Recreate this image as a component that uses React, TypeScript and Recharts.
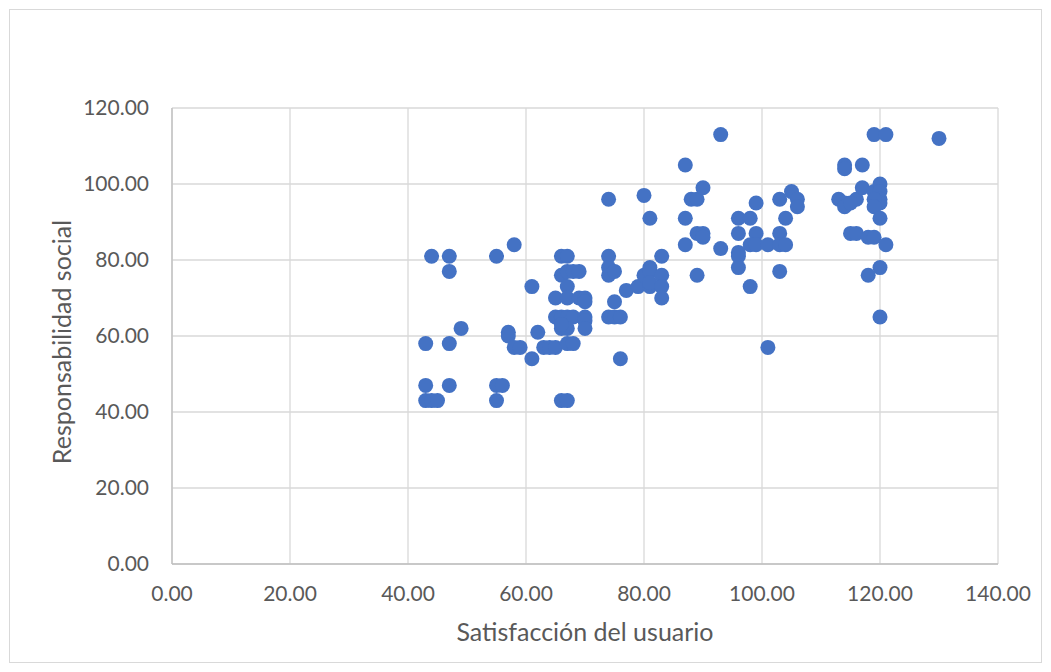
import React from "react";
import { ScatterChart, Scatter, XAxis, YAxis, CartesianGrid } from "recharts";

const satisfaccion = [
  43, 43, 43, 44, 45, 44, 47, 47, 47, 47, 49,
  55, 55, 56, 55, 58, 57, 57, 58, 59, 61, 61, 62, 63, 64, 65,
  66, 67, 66, 67, 68, 69, 67, 65, 67, 69, 70, 70, 65, 66, 67, 68, 70, 70, 66, 67, 70, 66, 67, 68, 66, 67,
  74, 74, 74, 74, 75, 75, 74, 75, 76, 76, 77, 79, 80, 81, 81, 81, 81, 83, 83, 83, 83, 80, 81,
  87, 93, 87, 88, 89, 90, 89, 90, 90, 87, 89, 93,
  96, 98, 96, 99, 99, 103, 105, 106, 106, 104, 103, 98, 99, 101, 103, 104, 96, 96, 96, 103, 98, 101,
  113, 114, 114, 114, 114, 117, 116, 115, 117, 119, 120, 120, 120, 120, 119, 119, 120, 115, 116, 118, 119, 121, 120, 118, 120, 119, 121, 130,
];

const responsabilidad = [
  58, 47, 43, 43, 43, 81, 81, 77, 58, 47, 62,
  81, 47, 47, 43, 84, 61, 60, 57, 57, 73, 54, 61, 57, 57, 57,
  81, 81, 76, 77, 77, 77, 73, 70, 70, 70, 70, 69, 65, 65, 65, 65, 65, 64, 62, 62, 62, 63, 58, 58, 43, 43,
  96, 81, 78, 76, 77, 69, 65, 65, 65, 54, 72, 73, 76, 78, 77, 73, 74, 81, 76, 73, 70, 97, 91,
  105, 113, 91, 96, 96, 99, 87, 87, 86, 84, 76, 83,
  91, 91, 87, 87, 95, 96, 98, 96, 94, 91, 87, 84, 84, 84, 84, 84, 82, 81, 78, 77, 73, 57,
  96, 95, 94, 105, 104, 105, 96, 95, 99, 98, 100, 98, 96, 95, 96, 94, 91, 87, 87, 86, 86, 84, 78, 76, 65, 113, 113, 112,
];

const xTicks = [0, 20, 40, 60, 80, 100, 120, 140];
const yTicks = [0, 20, 40, 60, 80, 100, 120];

const data = satisfaccion.map((x, i) => ({ x, y: responsabilidad[i] }));

const FONT = "Lato, 'Open Sans', sans-serif";
const fmt = (v: number) => v.toFixed(2);

const Dot = (p: any) => <circle cx={p.cx} cy={p.cy} r={7.5} fill="#4472C4" />;

const YLabel = (p: any) => {
  const vb = p.viewBox || {};
  const cx = vb.x - 31;
  const cy = vb.y + vb.height / 2 + 6;
  return (
    <text
      x={cx}
      y={cy}
      transform={`rotate(-90, ${cx}, ${cy})`}
      textAnchor="middle"
      dominantBaseline="central"
      fill="#595959"
      fontSize={25}
      fontFamily={FONT}
    >
      Responsabilidad social
    </text>
  );
};

export default function App() {
  return (
    <div style={{ position: "absolute", left: 0, top: 0, width: 1051, height: 672, background: "#fff" }}>
      <div
        style={{
          position: "absolute",
          left: 9,
          top: 9,
          width: 1031,
          height: 652,
          border: "1px solid #D9D9D9",
        }}
      />
      <div style={{ position: "absolute", left: 0, top: 0 }}>
        <ScatterChart
          width={1051}
          height={672}
          margin={{ top: 108, right: 53, bottom: 58, left: 92 }}
        >
          <CartesianGrid stroke="#D9D9D9" strokeWidth={1.3} />
          <XAxis
            type="number"
            dataKey="x"
            domain={[0, 140]}
            ticks={xTicks}
            tickFormatter={fmt}
            height={50}
            tickLine={false}
            tickSize={0}
            tickMargin={22}
            axisLine={{ stroke: "#BFBFBF", strokeWidth: 1.3 }}
            tick={{ fill: "#595959", fontSize: 21, fontFamily: FONT }}
            label={{
              value: "Satisfacción del usuario",
              position: "bottom",
              offset: 9,
              fill: "#595959",
              fontSize: 25,
              fontFamily: FONT,
            }}
          />
          <YAxis
            type="number"
            dataKey="y"
            domain={[0, 120]}
            ticks={yTicks}
            tickFormatter={fmt}
            width={80}
            tickLine={false}
            tickSize={0}
            tickMargin={23}
            axisLine={{ stroke: "#BFBFBF", strokeWidth: 1.3 }}
            tick={{ fill: "#595959", fontSize: 21, fontFamily: FONT }}
            label={{ content: YLabel }}
          />
          <Scatter data={data} shape={Dot} isAnimationActive={false} />
        </ScatterChart>
      </div>
    </div>
  );
}
